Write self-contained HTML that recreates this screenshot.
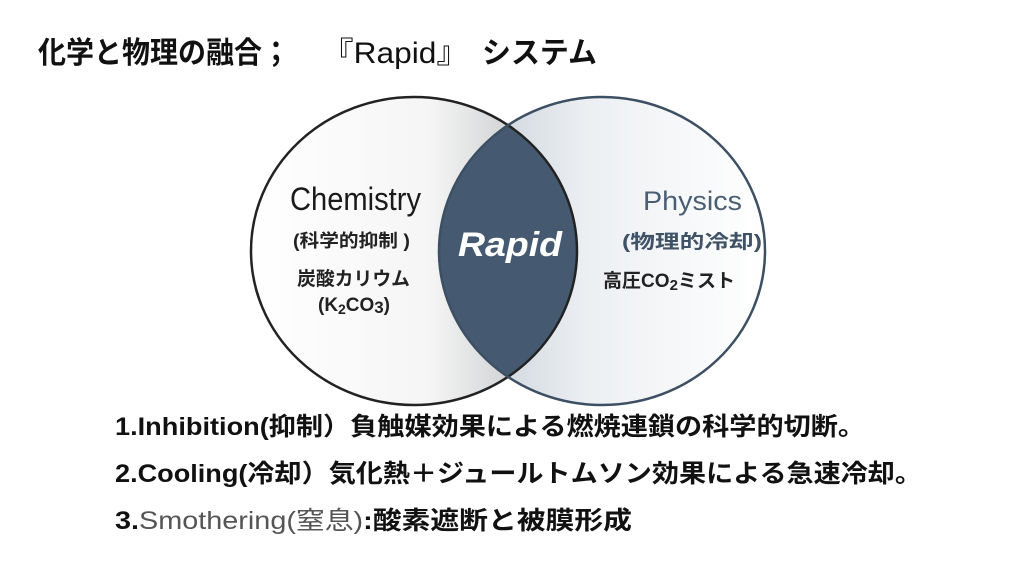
<!DOCTYPE html>
<html><head><meta charset="utf-8"><style>
html,body{margin:0;padding:0;background:#fff;width:1024px;height:572px;overflow:hidden}
svg{display:block}
text{font-family:"Liberation Sans","Noto Sans CJK JP",sans-serif}
</style></head><body>
<svg width="1024" height="572" viewBox="0 0 1024 572">
<defs>
<linearGradient id="gl" x1="0" x2="1" y1="0" y2="0">
<stop offset="0" stop-color="#ffffff"/><stop offset="0.55" stop-color="#f5f5f5"/><stop offset="1" stop-color="#b4b7ba"/>
</linearGradient>
<linearGradient id="gr" x1="0" x2="1" y1="0" y2="0">
<stop offset="0" stop-color="#bfc8d1"/><stop offset="0.45" stop-color="#eceff2"/><stop offset="1" stop-color="#ffffff"/>
</linearGradient>
<clipPath id="cl"><ellipse cx="414" cy="251" rx="163" ry="154"/></clipPath>
</defs>
<ellipse cx="414" cy="251" rx="163" ry="154" fill="url(#gl)"/>
<ellipse cx="602" cy="251" rx="163" ry="154" fill="url(#gr)"/>
<ellipse cx="602" cy="251" rx="163" ry="154" fill="#455a70" clip-path="url(#cl)"/>
<ellipse cx="414" cy="251" rx="163" ry="154" fill="none" stroke="#222" stroke-width="2.5"/>
<ellipse cx="602" cy="251" rx="163" ry="154" fill="none" stroke="#3d4f62" stroke-width="2.5"/>

<text x="38" y="63" font-size="30" font-weight="bold" fill="#111" textLength="252" lengthAdjust="spacingAndGlyphs">化学と物理の融合；</text>
<text x="322" y="63" font-size="30" fill="#111" textLength="146" lengthAdjust="spacingAndGlyphs">『Rapid』</text>
<text x="482" y="63" font-size="30" font-weight="bold" fill="#111" textLength="115" lengthAdjust="spacingAndGlyphs">システム</text>

<text x="290" y="210" font-size="32" fill="#1a1a1a" textLength="131" lengthAdjust="spacingAndGlyphs">Chemistry</text>
<text x="293" y="247" font-size="18" font-weight="bold" fill="#222" textLength="117" lengthAdjust="spacingAndGlyphs">(科学的抑制 )</text>
<text x="297" y="285" font-size="19" font-weight="bold" fill="#222" textLength="113" lengthAdjust="spacingAndGlyphs">炭酸カリウム</text>
<text x="318" y="311" font-size="19" font-weight="bold" fill="#222" textLength="72" lengthAdjust="spacingAndGlyphs">(K<tspan font-size="14" dy="3">2</tspan><tspan dy="-3">CO</tspan><tspan font-size="17" dy="2">3</tspan><tspan dy="-2">)</tspan></text>

<text x="458" y="256" font-size="34" font-weight="bold" font-style="italic" fill="#fff" textLength="104" lengthAdjust="spacingAndGlyphs">Rapid</text>

<text x="643" y="210" font-size="27" fill="#4a5e73" textLength="99" lengthAdjust="spacingAndGlyphs">Physics</text>
<text x="622" y="248" font-size="19" font-weight="bold" fill="#3f5266" textLength="140" lengthAdjust="spacingAndGlyphs">(物理的冷却)</text>
<text x="603" y="287" font-size="19" font-weight="bold" fill="#222" textLength="132" lengthAdjust="spacingAndGlyphs">高圧CO<tspan font-size="15" dy="3">2</tspan><tspan dy="-3">ミスト</tspan></text>

<text x="115" y="435" font-size="25" font-weight="bold" fill="#111" textLength="750" lengthAdjust="spacingAndGlyphs">1.Inhibition(抑制）負触媒効果による燃焼連鎖の科学的切断。</text>
<text x="115" y="482" font-size="25" font-weight="bold" fill="#111" textLength="807" lengthAdjust="spacingAndGlyphs">2.Cooling(冷却）気化熱＋ジュールトムソン効果による急速冷却。</text>
<text x="115" y="529" font-size="25" font-weight="bold" fill="#111" textLength="517" lengthAdjust="spacingAndGlyphs">3.<tspan fill="#555" font-weight="normal">Smothering(窒息)</tspan>:酸素遮断と被膜形成</text>
</svg>
</body></html>
